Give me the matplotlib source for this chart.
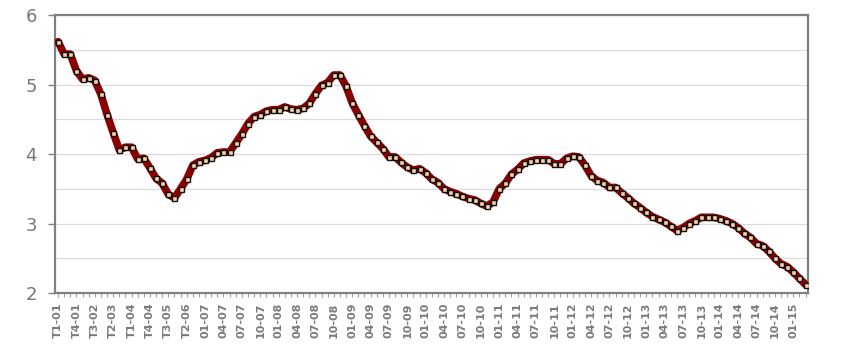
import matplotlib
matplotlib.use("Agg")
import matplotlib.pyplot as plt
from matplotlib.ticker import MultipleLocator, FixedLocator
import numpy as np

# Categories: quarters 2001-2006, then months 01-07 .. 03-15
quarters = [f"T{q}-{y:02d}" for y in range(1, 7) for q in range(1, 5)]
months = [f"{m:02d}-{y:02d}" for y in range(7, 16) for m in range(1, 13)]
months = months[:99]
categories = quarters + months

values = [
    5.62, 5.44, 5.44, 5.20, 5.08, 5.10, 5.06, 4.86, 4.57, 4.31,
    4.06, 4.10, 4.10, 3.93, 3.94, 3.80, 3.65, 3.58, 3.42, 3.37,
    3.50, 3.64, 3.84, 3.89, 3.91, 3.95, 4.02, 4.03, 4.03, 4.16,
    4.29, 4.44, 4.54, 4.57, 4.62, 4.64, 4.64, 4.68, 4.65, 4.64,
    4.66, 4.73, 4.87, 4.99, 5.03, 5.14, 5.14, 4.98, 4.74, 4.57,
    4.41, 4.26, 4.17, 4.08, 3.96, 3.96, 3.88, 3.81, 3.77, 3.79,
    3.73, 3.64, 3.59, 3.50, 3.46, 3.43, 3.39, 3.36, 3.34, 3.29,
    3.25, 3.31, 3.50, 3.58, 3.71, 3.78, 3.87, 3.90, 3.92, 3.92,
    3.92, 3.86, 3.86, 3.94, 3.97, 3.96, 3.84, 3.69, 3.62, 3.59,
    3.52, 3.52, 3.44, 3.37, 3.29, 3.23, 3.16, 3.10, 3.06, 3.02,
    2.96, 2.90, 2.94, 3.00, 3.04, 3.09, 3.09, 3.09, 3.07, 3.04,
    3.00, 2.94, 2.86, 2.80, 2.71, 2.68, 2.60, 2.50, 2.42, 2.38,
    2.30, 2.21, 2.12,
]

tick_labels = categories[::3]
yticks = [2, 3, 4, 5, 6]

fig = plt.figure(figsize=(8.52, 3.55), dpi=100)
ax = fig.add_axes([55/852, 1 - 293/355, (808 - 55)/852, (293 - 15.3)/355])

x = np.arange(len(values))
ax.plot(x, values, color="#8b0000", linewidth=5.5, solid_capstyle="round",
        solid_joinstyle="round", zorder=3)
ax.plot(x, values, linestyle="none", marker="s", markersize=3.6,
        markerfacecolor="#f6d2a8", markeredgecolor="#111111",
        markeredgewidth=1.0, zorder=4)

ax.set_xlim(-0.5, len(values) - 0.6)
ax.set_ylim(2, 6)

ax.yaxis.set_major_locator(FixedLocator(yticks))
ax.yaxis.set_minor_locator(MultipleLocator(0.5))
ax.grid(True, which="both", axis="y", color="#dcdcdc", linewidth=0.9, zorder=0)
ax.set_axisbelow(True)
ax.set_yticklabels([str(v) for v in yticks])
ax.tick_params(axis="y", which="major", length=5, width=1, color="#808080",
               labelsize=13, labelcolor="#777777", pad=8)
ax.tick_params(axis="y", which="minor", length=0)

ax.set_xticks(x[::3])
ax.set_xticklabels(tick_labels, rotation=90, fontsize=8, fontweight="bold",
                   color="#7a7a7a")
ax.xaxis.set_minor_locator(FixedLocator(x))
ax.tick_params(axis="x", which="both", length=3, width=0.8, color="#a0a0a0",
               pad=4)

for s in ax.spines.values():
    s.set_color("#808080")
    s.set_linewidth(1.6)

fig.savefig("out.png", dpi=100)
